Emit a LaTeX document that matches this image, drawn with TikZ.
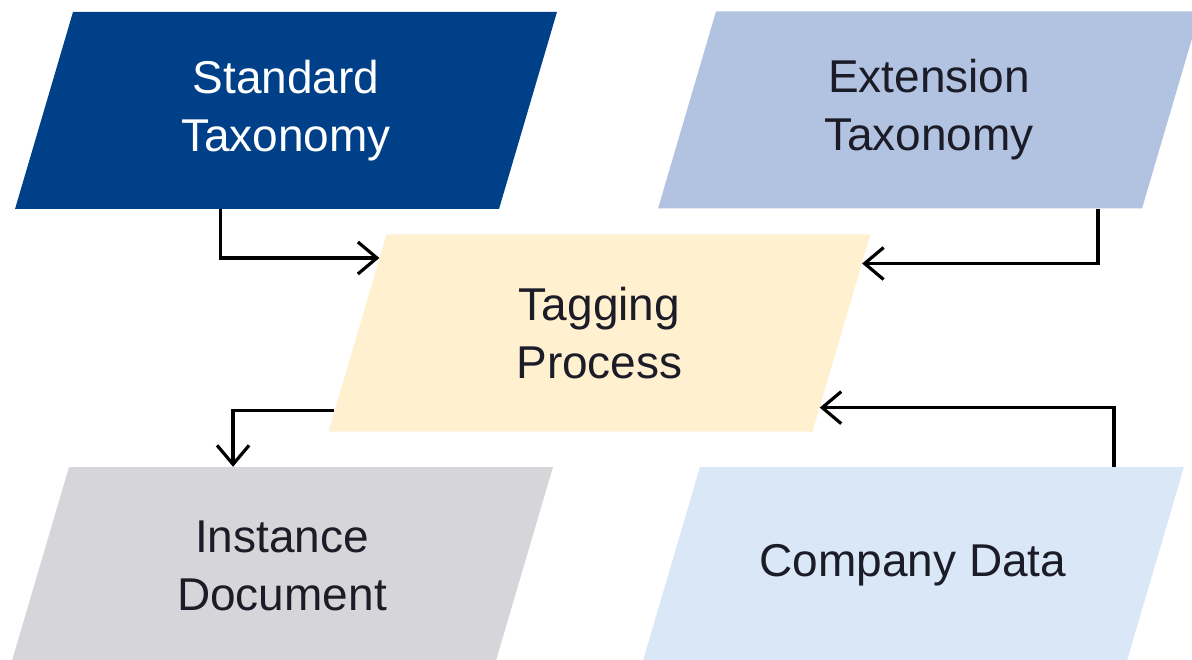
\documentclass[tikz,border=0pt]{standalone}
\usepackage{fontspec}
\setmainfont{Liberation Sans}
\usepackage{tikz}
\usetikzlibrary{shapes.geometric}
\usetikzlibrary{arrows.meta}

\definecolor{stdblue}{HTML}{004088}
\definecolor{extblue}{HTML}{B1C3E1}
\definecolor{tagcream}{HTML}{FFF0CF}
\definecolor{instgrey}{HTML}{D6D6DA}
\definecolor{compblue}{HTML}{DAE7F7}
\definecolor{txtdark}{HTML}{1C1C28}

\tikzset{
  box/.style={trapezium, trapezium left angle=73.6, trapezium right angle=106.4,
    inner sep=0pt, text=txtdark, font=\fontsize{46}{58}\selectfont,
    execute at begin node={\begin{minipage}[c][197pt][c]{426pt}\centering},
    execute at end node={\end{minipage}}},
  flow/.style={line width=3.2pt, -{Straight Barb[length=19pt,width=32pt]}}
}

\begin{document}
\begin{tikzpicture}[x=1pt, y=-1pt]
\useasboundingbox (0,0) rectangle (1192,660);
\node[box, fill=stdblue, text=white] (std) at (286,110.5) {Standard\\Taxonomy};
\node[box, fill=extblue] (ext) at (929,110) {Extension\\Taxonomy};
\node[box, fill=tagcream] (tag) at (599.5,333) {Tagging\\Process};
\node[box, fill=instgrey] (inst) at (282,565.5) {Instance\\Document};
\node[box, fill=compblue] (comp) at (913,565.5) {Company Data};

\path (std.bottom left corner) -- (std.bottom right corner) coordinate[pos=0.424] (std-out);
\path (ext.bottom left corner) -- (ext.bottom right corner) coordinate[pos=0.909] (ext-out);
\path (inst.top left corner) -- (inst.top right corner) coordinate[pos=0.339] (inst-in);
\path (comp.top left corner) -- (comp.top right corner) coordinate[pos=0.855] (comp-out);
\path (tag.top left corner) -- (tag.bottom left corner)
  coordinate[pos=0.12] (tag-in-l) coordinate[pos=0.893] (tag-out);
\path (tag.top right corner) -- (tag.bottom right corner)
  coordinate[pos=0.148] (tag-in-r) coordinate[pos=0.878] (tag-in-c);

\draw[flow] (std-out) |- (tag-in-l);
\draw[flow] (ext-out) |- (tag-in-r);
\draw[flow] (tag-out) -| (inst-in);
\draw[flow] (comp-out) |- (tag-in-c);
\end{tikzpicture}
\end{document}
